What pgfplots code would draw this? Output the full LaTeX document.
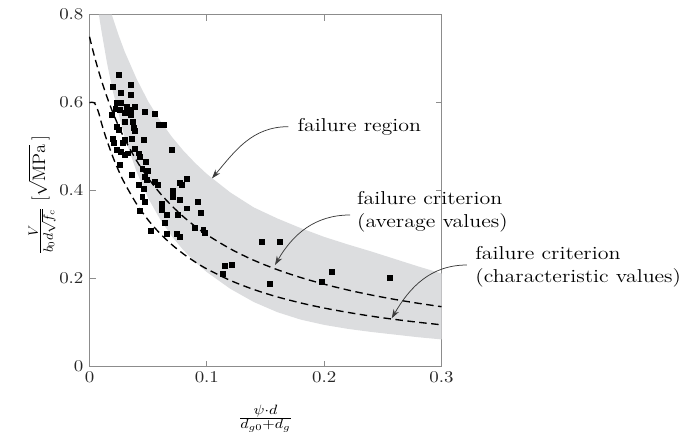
\documentclass[border=0pt]{standalone}
\usepackage{pgfplots}
\pgfplotsset{compat=1.18}
\usetikzlibrary{arrows.meta}
\definecolor{band}{RGB}{220,221,223}
\definecolor{frame}{RGB}{140,140,140}
\definecolor{annot}{RGB}{60,60,60}
\newcommand\annotfont{\fontsize{12.4}{15.6}\selectfont}

\begin{document}
\begin{tikzpicture}
\path[use as bounding box] (-59.67pt,-51.53pt) rectangle (403pt,244.47pt);
\begin{axis}[
  at={(0,0)}, anchor=south west,
  scale only axis, width=234.67pt, height=234.67pt,
  xmin=0, xmax=0.3, ymin=0, ymax=0.8,
  xtick={0,0.1,0.2,0.3}, ytick={0,0.2,0.4,0.6,0.8},
  axis line style={frame, line width=0.7pt},
  every tick/.style={frame, line width=0.6pt},
  major tick length=4pt,
  tick label style={font=\fontsize{10.5}{12}\selectfont, xscale=1.15, text=black!85},
  xlabel={$\frac{\psi\cdot d}{d_{g0}+d_g}$},
  xlabel style={at={(axis description cs:0.5,-0.148)}, anchor=center, font=\fontsize{12.5}{14}\selectfont, xscale=1.15},
  ylabel={$\frac{V}{b_0d\sqrt{f_c}}\ \big[\sqrt{\mathrm{MPa}}\;\big]$},
  ylabel style={at={(axis description cs:-0.135,0.488)}, anchor=center, font=\fontsize{13}{15}\selectfont},
  clip=false,
]
% failure region band
\addplot[fill=band, draw=none] coordinates {
(0.019,0.8) (0.025,0.752) (0.03,0.716) (0.04,0.655) (0.05,0.603) (0.06,0.56)
(0.07,0.523) (0.08,0.491) (0.09,0.463) (0.10,0.438) (0.12,0.396) (0.14,0.362)
(0.16,0.337) (0.18,0.315) (0.20,0.295) (0.22,0.278) (0.24,0.262) (0.26,0.245)
(0.28,0.228) (0.30,0.212)
(0.30,0.062) (0.28,0.067) (0.26,0.073) (0.24,0.079) (0.22,0.086) (0.20,0.095)
(0.18,0.107) (0.16,0.124) (0.14,0.147) (0.12,0.177) (0.10,0.215) (0.09,0.238)
(0.08,0.265) (0.07,0.297) (0.06,0.336) (0.05,0.383) (0.04,0.444) (0.03,0.521)
(0.02,0.625) (0.015,0.689) (0.01,0.766) (0.008,0.8)
} -- cycle;

% failure criterion, average values
\addplot[black, line width=0.9pt, dash pattern=on 5pt off 3pt, smooth] coordinates {
(0,0.75) (0.0025,0.7229) (0.005,0.6977) (0.0075,0.6742) (0.01,0.6522) (0.0125,0.6316)
(0.015,0.6122) (0.02,0.5769) (0.025,0.5455) (0.03,0.5172) (0.04,0.4688) (0.05,0.4286)
(0.06,0.3947) (0.07,0.3659) (0.08,0.3409) (0.09,0.3191) (0.10,0.30) (0.12,0.2679)
(0.14,0.2419) (0.16,0.2206) (0.18,0.2027) (0.20,0.1875) (0.22,0.1744) (0.24,0.1630)
(0.26,0.1530) (0.28,0.1442) (0.30,0.1364)
};

% failure criterion, characteristic values
\addplot[black, line width=0.9pt, dash pattern=on 5pt off 3pt, smooth] coordinates {
(0,0.6) (0.004,0.6) (0.0075,0.5797) (0.01,0.5556) (0.0125,0.5333) (0.015,0.5128)
(0.02,0.4762) (0.025,0.4444) (0.03,0.4167) (0.04,0.3704) (0.05,0.3333) (0.06,0.3030)
(0.07,0.2778) (0.08,0.2564) (0.09,0.2381) (0.10,0.2222) (0.12,0.1961) (0.14,0.1754)
(0.16,0.1587) (0.18,0.1449) (0.20,0.1333) (0.22,0.1235) (0.24,0.1149) (0.26,0.1075)
(0.28,0.1010) (0.30,0.0952)
};

% test results
\addplot[only marks, mark=square*, mark size=1.65pt, black] coordinates {
(0.025,0.663) (0.020,0.636) (0.035,0.640) (0.027,0.623) (0.035,0.618)
(0.023,0.599) (0.027,0.600) (0.022,0.587) (0.026,0.583) (0.032,0.591)
(0.035,0.583) (0.039,0.590) (0.030,0.576) (0.019,0.572) (0.035,0.572)
(0.047,0.579) (0.056,0.574) (0.030,0.557) (0.037,0.556) (0.023,0.545)
(0.025,0.538) (0.038,0.542) (0.039,0.537) (0.059,0.549) (0.063,0.549)
(0.020,0.519) (0.021,0.508) (0.030,0.515) (0.036,0.519) (0.028,0.508)
(0.046,0.516) (0.023,0.492) (0.027,0.489) (0.033,0.485) (0.030,0.481)
(0.039,0.496) (0.042,0.485) (0.043,0.477) (0.070,0.492) (0.026,0.458)
(0.048,0.465) (0.045,0.450) (0.050,0.446) (0.036,0.436) (0.047,0.432)
(0.049,0.424) (0.056,0.420) (0.058,0.413) (0.042,0.413) (0.046,0.405)
(0.077,0.419) (0.083,0.428) (0.079,0.413) (0.071,0.399) (0.071,0.386)
(0.077,0.379) (0.045,0.386) (0.047,0.374) (0.062,0.371) (0.062,0.357)
(0.092,0.375) (0.083,0.360) (0.043,0.355) (0.066,0.345) (0.075,0.345)
(0.095,0.349) (0.064,0.326) (0.090,0.315) (0.097,0.311) (0.098,0.305)
(0.052,0.308) (0.066,0.302) (0.074,0.303) (0.077,0.295)
(0.147,0.284) (0.162,0.284) (0.1155,0.229) (0.121,0.231) (0.114,0.212)
(0.154,0.189) (0.2065,0.216) (0.198,0.193) (0.256,0.202)
};

% annotations
\draw[annot, line width=0.5pt, -{Stealth[length=6pt,width=4pt]}]
  (axis cs:0.1695,0.5455) to[out=180,in=50] (axis cs:0.1044,0.428);
\node[anchor=west, font=\annotfont, xscale=1.18, inner sep=0pt] at (axis cs:0.177,0.546) {failure region};

\draw[annot, line width=0.5pt, -{Stealth[length=6pt,width=4pt]}]
  (axis cs:0.2221,0.3448) to[out=180,in=60] (axis cs:0.1581,0.2311);
\node[anchor=west, align=left, font=\annotfont, xscale=1.18, inner sep=0pt] at (axis cs:0.2278,0.3527) {failure criterion\\(average values)};

\draw[annot, line width=0.5pt, -{Stealth[length=6pt,width=4pt]}]
  (axis cs:0.3216,0.2311) to[out=180,in=60] (axis cs:0.2576,0.110);
\node[anchor=west, align=left, font=\annotfont, xscale=1.18, inner sep=0pt] at (axis cs:0.3286,0.2266) {failure criterion\\(characteristic values)};
\end{axis}
\end{tikzpicture}
\end{document}
